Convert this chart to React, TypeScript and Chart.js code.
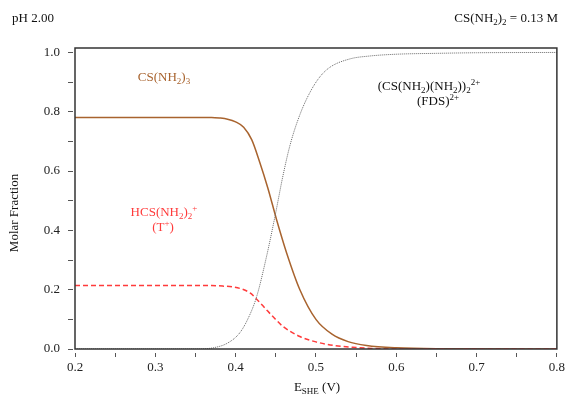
import { useEffect, useRef } from 'react';
import { Chart, registerables } from 'chart.js';

Chart.register(...registerables);

// CS(NH2)3 (brown, solid)
const CS_E = [0.2, 0.35, 0.37, 0.38, 0.39, 0.4, 0.41, 0.42, 0.43, 0.44, 0.451, 0.4635, 0.48, 0.5, 0.52, 0.54, 0.563, 0.6, 0.65, 0.8];
const CS_FRAC = [0.781, 0.781, 0.781, 0.779, 0.775, 0.766, 0.748, 0.706, 0.63, 0.544, 0.436, 0.324, 0.2, 0.1, 0.05, 0.025, 0.012, 0.004, 0.001, 0];

// HCS(NH2)2+ (T+) (red, dashed)
const T_E = [0.2, 0.37, 0.385, 0.397, 0.408, 0.418, 0.428, 0.4385, 0.449, 0.459, 0.48, 0.5, 0.522, 0.55, 0.57, 0.6, 0.8];
const T_FRAC = [0.214, 0.214, 0.212, 0.209, 0.202, 0.189, 0.163, 0.132, 0.102, 0.076, 0.042, 0.024, 0.012, 0.005, 0.002, 0, 0];

// (FDS)2+ (grey, dotted)
const FDS_E = [0.2, 0.35, 0.372, 0.39, 0.405, 0.415, 0.426, 0.4385, 0.449, 0.459, 0.468, 0.48, 0.4925, 0.505, 0.5174, 0.542, 0.567, 0.6, 0.65, 0.7, 0.8];
const FDS_FRAC = [0, 0, 0.004, 0.02, 0.054, 0.1, 0.175, 0.312, 0.447, 0.585, 0.69, 0.79, 0.865, 0.918, 0.95, 0.978, 0.988, 0.994, 0.997, 0.999, 1.0];

const X_TICKS = [0.2, 0.25, 0.3, 0.35, 0.4, 0.45, 0.5, 0.55, 0.6, 0.65, 0.7, 0.75, 0.8];
const X_TICK_LABELS = ['0.2', '', '0.3', '', '0.4', '', '0.5', '', '0.6', '', '0.7', '', '0.8'];
const Y_TICKS = [0, 0.1, 0.2, 0.3, 0.4, 0.5, 0.6, 0.7, 0.8, 0.9, 1.0];
const Y_TICK_LABELS = ['0.0', '', '0.2', '', '0.4', '', '0.6', '', '0.8', '', '1.0'];

const BROWN = '#a8632e';
const RED = '#ff3b3b';
const GREY = '#666666';
const FONT = '"Liberation Serif", "DejaVu Serif", serif';

type Seg = { t: string; s?: 'sub' | 'sup' };

function drawRich(ctx: CanvasRenderingContext2D, segs: Seg[], x: number, y: number, align: 'left' | 'center' | 'right', color: string) {
  const base = `13px ${FONT}`;
  const small = `9px ${FONT}`;
  const widths = segs.map((s) => {
    ctx.font = s.s ? small : base;
    return ctx.measureText(s.t).width;
  });
  const total = widths.reduce((a, b) => a + b, 0);
  let cx = align === 'left' ? x : align === 'center' ? x - total / 2 : x - total;
  ctx.fillStyle = color;
  ctx.textAlign = 'left';
  ctx.textBaseline = 'alphabetic';
  segs.forEach((s, i) => {
    ctx.font = s.s ? small : base;
    const dy = s.s === 'sub' ? 3 : s.s === 'sup' ? -5 : 0;
    ctx.fillText(s.t, cx, y + dy);
    cx += widths[i];
  });
}

const pts = (xs: number[], ys: number[]) => xs.map((x, i) => ({ x, y: ys[i] }));

const decorPlugin = {
  id: 'decor',
  afterDatasetsDraw(chart: any) {
    const { ctx, chartArea } = chart;
    ctx.save();
    ctx.strokeStyle = '#333';
    ctx.lineWidth = 1.5;
    ctx.strokeRect(chartArea.left, chartArea.top, chartArea.right - chartArea.left, chartArea.bottom - chartArea.top);
    ctx.restore();
  },
  afterDraw(chart: any) {
    const { ctx } = chart;
    ctx.save();
    drawRich(ctx, [{ t: 'pH 2.00' }], 12, 22, 'left', '#111');
    drawRich(ctx, [{ t: 'CS(NH' }, { t: '2', s: 'sub' }, { t: ')' }, { t: '2', s: 'sub' }, { t: ' = 0.13 M' }], 558, 22, 'right', '#111');
    drawRich(ctx, [{ t: 'CS(NH' }, { t: '2', s: 'sub' }, { t: ')' }, { t: '3', s: 'sub' }], 164, 81, 'center', BROWN);
    drawRich(ctx, [{ t: 'HCS(NH' }, { t: '2', s: 'sub' }, { t: ')' }, { t: '2', s: 'sub' }, { t: '+', s: 'sup' }], 164, 216, 'center', RED);
    drawRich(ctx, [{ t: '(T' }, { t: '+', s: 'sup' }, { t: ')' }], 163, 231, 'center', RED);
    drawRich(ctx, [{ t: '(CS(NH' }, { t: '2', s: 'sub' }, { t: ')(NH' }, { t: '2', s: 'sub' }, { t: '))' }, { t: '2', s: 'sub' }, { t: '2+', s: 'sup' }], 429, 90, 'center', '#111');
    drawRich(ctx, [{ t: '(FDS)' }, { t: '2+', s: 'sup' }], 438, 105, 'center', '#111');
    drawRich(ctx, [{ t: 'E' }, { t: 'SHE', s: 'sub' }, { t: ' (V)' }], 317, 391, 'center', '#111');
    ctx.translate(18, 213);
    ctx.rotate(-Math.PI / 2);
    drawRich(ctx, [{ t: 'Molar Fraction' }], 0, 0, 'center', '#111');
    ctx.restore();
  },
};

export default function App() {
  const ref = useRef<HTMLCanvasElement | null>(null);
  useEffect(() => {
    if (!ref.current) return;
    const chart = new Chart(ref.current, {
      type: 'line',
      data: {
        datasets: [
          { data: pts(FDS_E, FDS_FRAC), borderColor: GREY, borderWidth: 1, borderDash: [1, 1], pointRadius: 0, cubicInterpolationMode: 'monotone', fill: false },
          { data: pts(T_E, T_FRAC), borderColor: RED, borderWidth: 1.5, borderDash: [5, 3], pointRadius: 0, cubicInterpolationMode: 'monotone', fill: false },
          { data: pts(CS_E, CS_FRAC), borderColor: BROWN, borderWidth: 1.5, pointRadius: 0, cubicInterpolationMode: 'monotone', fill: false },
        ],
      },
      options: {
        animation: false,
        responsive: false,
        events: [],
        layout: { padding: { top: 48, right: 11, bottom: 0, left: 0 } },
        plugins: { legend: { display: false }, tooltip: { enabled: false }, title: { display: false } },
        scales: {
          x: {
            type: 'linear',
            min: 0.2,
            max: 0.8,
            afterBuildTicks: (scale: any) => { scale.ticks = X_TICKS.map((v) => ({ value: v })); },
            afterFit: (scale: any) => { scale.height = 46; },
            border: { display: false },
            grid: { drawOnChartArea: false, drawTicks: true, tickLength: 8, color: '#555', tickBorderDash: [0, 4, 4, 20] },
            ticks: {
              autoSkip: false,
              maxRotation: 0,
              padding: 3,
              color: '#222',
              font: { family: FONT, size: 13 },
              callback: (_v: any, i: number) => X_TICK_LABELS[i] ?? '',
            },
          },
          y: {
            type: 'linear',
            min: 0,
            max: 1.015,
            afterBuildTicks: (scale: any) => { scale.ticks = Y_TICKS.map((v) => ({ value: v })); },
            afterFit: (scale: any) => { scale.width = 75; },
            border: { display: false },
            grid: { drawOnChartArea: false, drawTicks: true, tickLength: 7, color: '#555', tickBorderDash: [5, 20] },
            ticks: {
              autoSkip: false,
              padding: 8,
              color: '#222',
              font: { family: FONT, size: 13 },
              callback: (_v: any, i: number) => Y_TICK_LABELS[i] ?? '',
            },
          },
        },
      },
      plugins: [decorPlugin],
    } as any);
    return () => chart.destroy();
  }, []);
  return (
    <div style={{ position: 'fixed', left: 0, top: 0, width: 568, height: 395, background: '#fff' }}>
      <canvas ref={ref} width={568} height={395} style={{ display: 'block' }} />
    </div>
  );
}
